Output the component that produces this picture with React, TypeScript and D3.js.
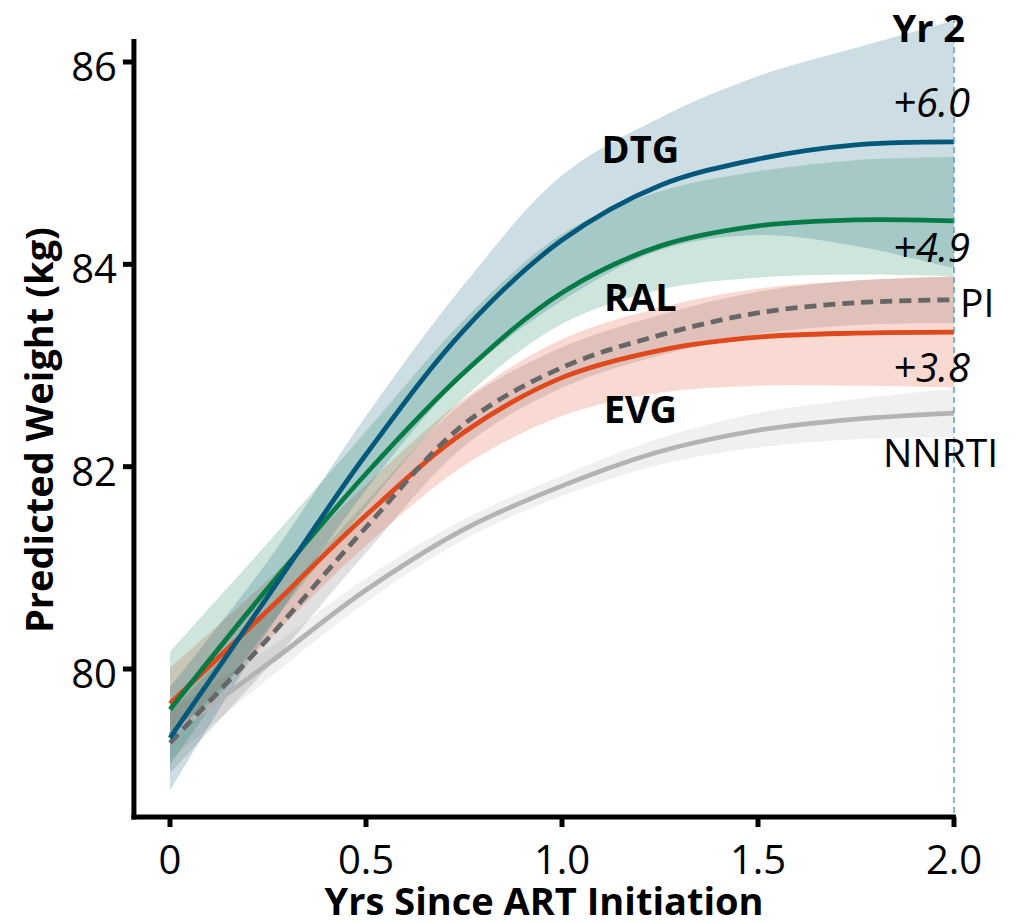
import React from 'react';
import * as d3 from 'd3';

// ---- data ----
const years = [0, 0.25, 0.5, 0.75, 1.0, 1.25, 1.5, 1.75, 2.0];

const dtgFit = [79.32, 80.72, 82.12, 83.35, 84.24, 84.78, 85.04, 85.18, 85.21];
const dtgLower = [78.8, 80.37, 81.77, 82.9, 83.64, 84.14, 84.29, 84.18, 83.96];
const dtgUpper = [79.82, 81.07, 82.5, 83.8, 84.88, 85.45, 85.86, 86.14, 86.41];

const ralFit = [79.6, 80.8, 81.93, 82.93, 83.72, 84.18, 84.38, 84.44, 84.43];
const ralLower = [79.05, 80.4, 81.6, 82.68, 83.41, 83.75, 83.87, 83.9, 83.88];
const ralUpper = [80.17, 81.25, 82.35, 83.45, 84.3, 84.72, 84.92, 85.03, 85.06];

const evgFit = [79.66, 80.58, 81.52, 82.34, 82.88, 83.15, 83.28, 83.32, 83.33];
const evgLower = [79.31, 80.28, 81.22, 82.01, 82.5, 82.73, 82.8, 82.8, 82.78];
const evgUpper = [80.01, 80.88, 81.82, 82.67, 83.26, 83.57, 83.76, 83.84, 83.88];

const piFit = [79.27, 80.3, 81.4, 82.42, 82.98, 83.3, 83.52, 83.62, 83.65];
const piLower = [78.97, 80.02, 81.15, 82.2, 82.78, 83.1, 83.31, 83.4, 83.42];
const piUpper = [79.57, 80.58, 81.65, 82.64, 83.18, 83.5, 83.73, 83.84, 83.88];

const nnrtiFit = [79.35, 80.05, 80.78, 81.38, 81.81, 82.15, 82.36, 82.47, 82.53];
const nnrtiLower = [79.1, 79.9, 80.66, 81.28, 81.71, 82.02, 82.19, 82.27, 82.29];
const nnrtiUpper = [79.6, 80.2, 80.9, 81.48, 81.91, 82.28, 82.53, 82.67, 82.77];

const xTicks = [0, 0.5, 1.0, 1.5, 2.0];
const xTickLabels = ['0', '0.5', '1.0', '1.5', '2.0'];
const yTicks = [80, 82, 84, 86];
const yTickLabels = ['80', '82', '84', '86'];

const FONT = '"Open Sans", "DejaVu Sans", sans-serif';

export default function App() {
  const x = d3.scaleLinear().domain([0, 2]).range([170, 954]);
  const y = d3.scaleLinear().domain([80, 86]).range([669, 62]);
  const xMin = -0.092, xMax = 2.005, yMin = 78.537, yMax = 86.227;

  const series = [
    { key: 'NNRTI', fit: nnrtiFit, lo: nnrtiLower, hi: nnrtiUpper, color: '#b3b3b3', dash: null },
    { key: 'PI', fit: piFit, lo: piLower, hi: piUpper, color: '#666666', dash: '12 7' },
    { key: 'EVG', fit: evgFit, lo: evgLower, hi: evgUpper, color: '#e0481e', dash: null },
    { key: 'RAL', fit: ralFit, lo: ralLower, hi: ralUpper, color: '#077b45', dash: null },
    { key: 'DTG', fit: dtgFit, lo: dtgLower, hi: dtgUpper, color: '#02587a', dash: null },
  ];

  const curve = d3.curveCatmullRom.alpha(0.5);

  const area = (lo: number[], hi: number[]) =>
    d3.area<number>()
      .x((_, i) => x(years[i]))
      .y0((_, i) => y(lo[i]))
      .y1((_, i) => y(hi[i]))
      .curve(curve)(years as any) as string;

  const line = (v: number[]) =>
    d3.line<number>()
      .x((_, i) => x(years[i]))
      .y((_, i) => y(v[i]))
      .curve(curve)(years as any) as string;

  const lineOrder = ['NNRTI', 'EVG', 'PI', 'RAL', 'DTG'];

  return (
    <svg width={1025} height={923} style={{ position: 'absolute', left: 0, top: 0, background: '#fff' }} fontFamily={FONT}>
      {/* bands */}
      {series.map(s => (
        <path key={'b' + s.key} d={area(s.lo, s.hi)} fill={s.color} fillOpacity={0.2} stroke="none" />
      ))}
      {/* lines */}
      {lineOrder.map(k => {
        const s = series.find(d => d.key === k)!;
        return (
          <path key={'l' + k} d={line(s.fit)} fill="none" stroke={s.color} strokeWidth={4.8}
            strokeDasharray={s.dash ?? undefined} />
        );
      })}

      {/* Year 2 reference line */}
      <line x1={x(2)} x2={x(2)} y1={17} y2={y(yMin)} stroke="#5b9bd5" strokeWidth={1.5} strokeDasharray="6 4" />

      {/* axes */}
      <line x1={x(xMin)} x2={x(xMin)} y1={y(yMax)} y2={y(yMin) + 2.5} stroke="#000" strokeWidth={5} />
      <line x1={x(xMin) - 2.5} x2={x(xMax)} y1={y(yMin)} y2={y(yMin)} stroke="#000" strokeWidth={5} />
      {yTicks.map((t, i) => (
        <g key={'yt' + t}>
          <line x1={x(xMin) - 11} x2={x(xMin)} y1={y(t)} y2={y(t)} stroke="#000" strokeWidth={5} />
          <text x={117} y={y(t) + 19} textAnchor="end" fontSize={40} fill="#000">{yTickLabels[i]}</text>
        </g>
      ))}
      {xTicks.map((t, i) => (
        <g key={'xt' + t}>
          <line x1={x(t)} x2={x(t)} y1={y(yMin)} y2={y(yMin) + 10} stroke="#000" strokeWidth={5} />
          <text x={x(t)} y={874} textAnchor="middle" fontSize={40} fill="#000">{xTickLabels[i]}</text>
        </g>
      ))}

      {/* axis titles */}
      <text x={544} y={915} textAnchor="middle" fontSize={38} fontWeight="bold" fill="#000">Yrs Since ART Initiation</text>
      <text transform="translate(53,430) rotate(-90)" textAnchor="middle" fontSize={38} fontWeight="bold" fill="#000">Predicted Weight (kg)</text>

      {/* series labels */}
      <text x={x(1.2)} y={y(85.0)} textAnchor="middle" fontSize={38} fontWeight="bold" fill="#000">DTG</text>
      <text x={x(1.2)} y={y(83.54)} textAnchor="middle" fontSize={38} fontWeight="bold" fill="#000">RAL</text>
      <text x={x(1.2)} y={y(82.43)} textAnchor="middle" fontSize={38} fontWeight="bold" fill="#000">EVG</text>
      <text x={965} y={y(86.2)} textAnchor="end" fontSize={38} fontWeight="bold" fill="#000">Yr 2</text>
      <text x={970} y={y(85.46)} textAnchor="end" fontSize={40} fontStyle="italic" fill="#000">+6.0</text>
      <text x={970} y={y(84.02)} textAnchor="end" fontSize={40} fontStyle="italic" fill="#000">+4.9</text>
      <text x={970} y={y(82.84)} textAnchor="end" fontSize={40} fontStyle="italic" fill="#000">+3.8</text>
      <text x={960} y={y(83.48)} textAnchor="start" fontSize={39} fill="#000">PI</text>
      <text x={883} y={y(82.0)} textAnchor="start" fontSize={39} fill="#000">NNRTI</text>
    </svg>
  );
}
